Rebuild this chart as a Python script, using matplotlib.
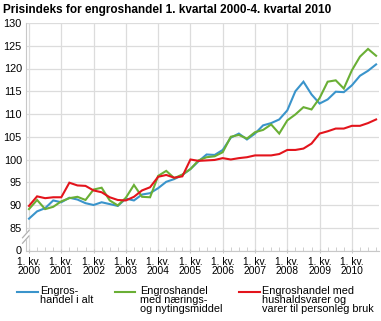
import numpy as np
import matplotlib
matplotlib.use('Agg')
import matplotlib.pyplot as plt
from matplotlib.lines import Line2D

plt.rcParams['font.family'] = ['Liberation Sans', 'DejaVu Sans']

years = list(range(2000, 2011))
# quarterly index values, 1. kv. 2000 - 4. kv. 2010
engros_i_alt = [87.0, 88.6, 89.3, 91.0,  90.6, 91.6, 91.2, 90.4,
                90.0, 90.6, 90.2, 89.8,  91.4, 91.0, 92.3, 92.6,
                93.7, 95.1, 95.7, 96.6,  97.9, 99.6, 101.1, 101.0,
                102.1, 104.8, 105.7, 104.4,  105.7, 107.5, 108.0, 108.8,
                110.8, 115.0, 117.1, 114.3,  112.3, 113.2, 114.9, 114.8,
                116.3, 118.4, 119.5, 120.9]
naering = [89.1, 91.1, 89.1, 89.6,  90.8, 91.5, 91.8, 91.1,
           93.4, 93.8, 91.0, 89.9,  91.6, 94.4, 91.8, 91.7,
           96.4, 97.5, 95.9, 96.7,  97.9, 99.8, 100.5, 100.7,
           101.6, 105.0, 105.4, 104.6,  106.0, 106.5, 107.7, 105.7,
           108.6, 109.9, 111.5, 111.0,  113.5, 117.1, 117.4, 115.6,
           119.6, 122.6, 124.3, 122.8]
husholdning = [89.8, 91.9, 91.5, 91.7,  91.7, 94.9, 94.3, 94.2,
               93.2, 92.8, 91.7, 91.1,  91.0, 91.8, 93.2, 93.9,
               96.2, 96.6, 96.0, 96.3,  100.0, 99.7, 99.8, 99.9,
               100.3, 100.0, 100.3, 100.5,  100.9, 100.9, 100.9, 101.2,
               102.1, 102.1, 102.4, 103.5,  105.7, 106.2, 106.8, 106.8,
               107.4, 107.4, 108.0, 108.8]

labels = ['Engros-\nhandel i alt',
          'Engroshandel\nmed nærings-\nog nytingsmiddel',
          'Engroshandel med\nhushaldsvarer og\nvarer til personleg bruk']
colors = ['#3a94cb', '#6aaf35', '#e3141c']

x = [yr + q / 4 for yr in years for q in range(4)]

fig = plt.figure(figsize=(3.81, 3.21), dpi=100)
ax = fig.add_axes([26 / 381, 1 - 250.5 / 321, 353 / 381, 227.5 / 321])

for vals, c in zip([engros_i_alt, naering, husholdning], colors):
    ax.plot(x, vals, color=c, lw=1.5, solid_joinstyle='miter')

# broken axis: 80 on the scale is shown as 0
ax.set_ylim(80, 130)
ax.set_yticks(np.arange(80, 131, 5))
ax.set_yticklabels(['0'] + [str(v) for v in range(85, 131, 5)])
ax.set_xlim(1999.907, 2010.84)
ax.set_xticks(years)
ax.set_xticklabels(['1. kv.\n%d' % yr for yr in years])
ax.set_xticks([yr + q / 4 for yr in years for q in range(1, 4)], minor=True)

ax.grid(True, which='major', color='#dcdcdc', lw=0.9)
ax.set_axisbelow(True)
ax.spines['top'].set_visible(False)
ax.spines['right'].set_visible(False)
ax.spines['left'].set_color('#c8c8c8')
ax.spines['bottom'].set_color('#c8c8c8')
ax.tick_params(axis='y', length=0, pad=3, labelsize=7.8, colors='#000000')
ax.tick_params(axis='x', which='major', length=3, direction='inout',
               color='#c8c8c8', pad=3, labelsize=7.4)
ax.tick_params(axis='x', which='minor', length=3, direction='in',
               color='#c8c8c8')
for t in ax.get_xticklabels():
    t.set_linespacing(0.9)

# break marks on the y axis
ax.fill([1999.80, 2000.0, 2000.0, 1999.80], [81.6, 83.2, 84.4, 82.8],
        color='white', clip_on=False, zorder=3)
ax.plot([1999.80, 2000.0], [82.8, 84.4], color='#b0b0b0', lw=0.9,
        clip_on=False, zorder=4)
ax.plot([1999.80, 2000.0], [81.6, 83.2], color='#b0b0b0', lw=0.9,
        clip_on=False, zorder=4)

fig.text(3 / 381, 1 - 10 / 321, 'Prisindeks for engroshandel 1. kvartal 2000-4. kvartal 2010',
         fontsize=8.5, fontweight='bold', va='center', ha='left')

# legend, handle aligned with first text line
for (x0, x1, xt), lab, c in zip([(17, 38, 40), (115, 135, 140), (239, 260, 262)],
                                labels, colors):
    fig.add_artist(Line2D([x0 / 381, x1 / 381], [1 - 292 / 321] * 2,
                          color=c, lw=1.5))
    fig.text(xt / 381, 1 - 286.5 / 321, lab, fontsize=7.8, va='top',
             ha='left', linespacing=0.85)

fig.savefig('out.png', dpi=100)
